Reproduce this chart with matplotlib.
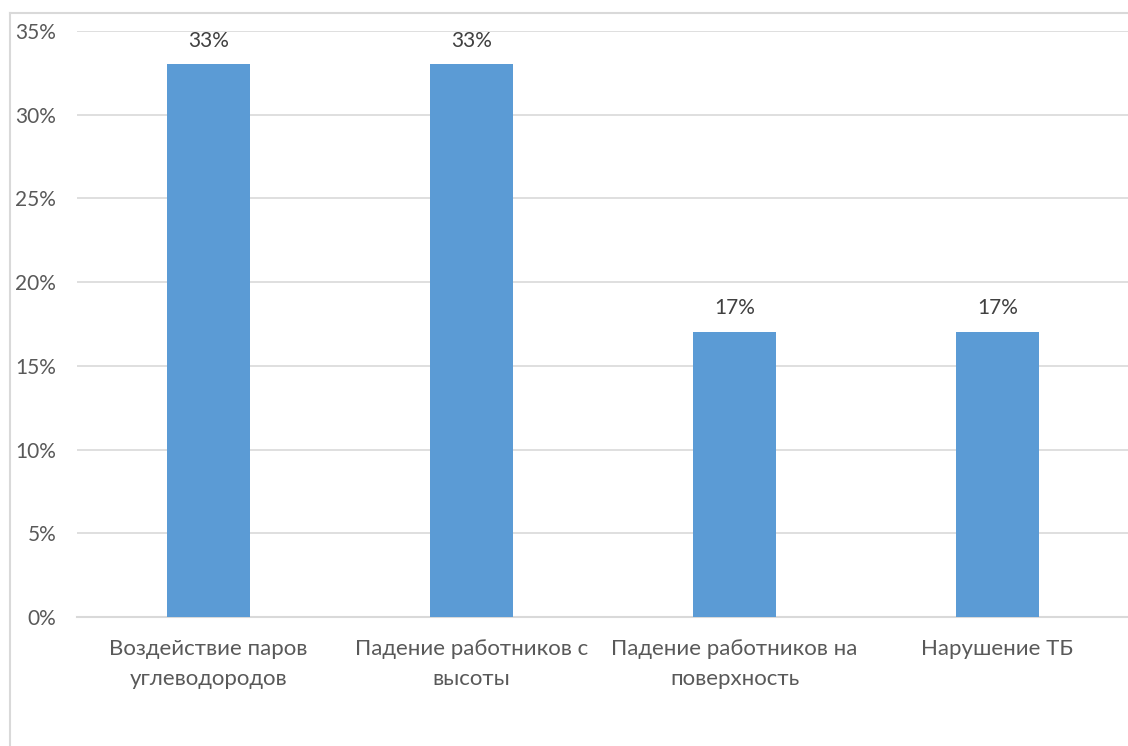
import matplotlib.pyplot as plt
from matplotlib.lines import Line2D
from matplotlib.ticker import FuncFormatter, MultipleLocator

categories = [
    "Воздействие паров\nуглеводородов",
    "Падение работников с\nвысоты",
    "Падение работников на\nповерхность",
    "Нарушение ТБ",
]
shares = [0.33, 0.33, 0.17, 0.17]

bar_color = "#5B9BD5"
text_color = "#595959"
grid_color = "#D9D9D9"

plt.rcParams["font.family"] = ["Lato", "DejaVu Sans"]

fig = plt.figure(figsize=(11.28, 7.46), dpi=100)
ax = fig.add_axes([77 / 1128, 1 - 617 / 746, 1052 / 1128, (617 - 31) / 746])

# chart area frame: left and top edges
fx, fy = 9.5 / 1128, 1 - 12.5 / 746
fig.add_artist(Line2D([fx, fx], [0, fy], color=grid_color, linewidth=1.5))
fig.add_artist(Line2D([fx, 1], [fy, fy], color=grid_color, linewidth=1.5))

x = range(len(categories))
bars = ax.bar(x, shares, width=0.316, color=bar_color, zorder=3)

for rect, v in zip(bars, shares):
    ax.annotate(f"{v:.0%}", (rect.get_x() + rect.get_width() / 2, v),
                xytext=(0, 10), textcoords="offset points",
                ha="center", va="bottom", fontsize=15, color="#404040")

ax.set_xlim(-0.5, len(categories) - 0.5)
ax.set_ylim(0, 0.35)
ax.yaxis.set_major_locator(MultipleLocator(0.05))
ax.yaxis.set_major_formatter(FuncFormatter(lambda v, _: f"{v * 100:.0f}%"))
ax.set_xticks(list(x))
ax.set_xticklabels(categories, linespacing=1.6)

ax.grid(axis="y", color=grid_color, linewidth=1.2, zorder=0)
for s in ["top", "right", "left"]:
    ax.spines[s].set_visible(False)
ax.spines["bottom"].set_color(grid_color)
ax.spines["bottom"].set_linewidth(1.5)
ax.tick_params(axis="y", length=0, labelsize=15, colors=text_color, pad=15)
ax.tick_params(axis="x", length=0, labelsize=16, colors=text_color, pad=16)

fig.savefig("out.png", dpi=100)
